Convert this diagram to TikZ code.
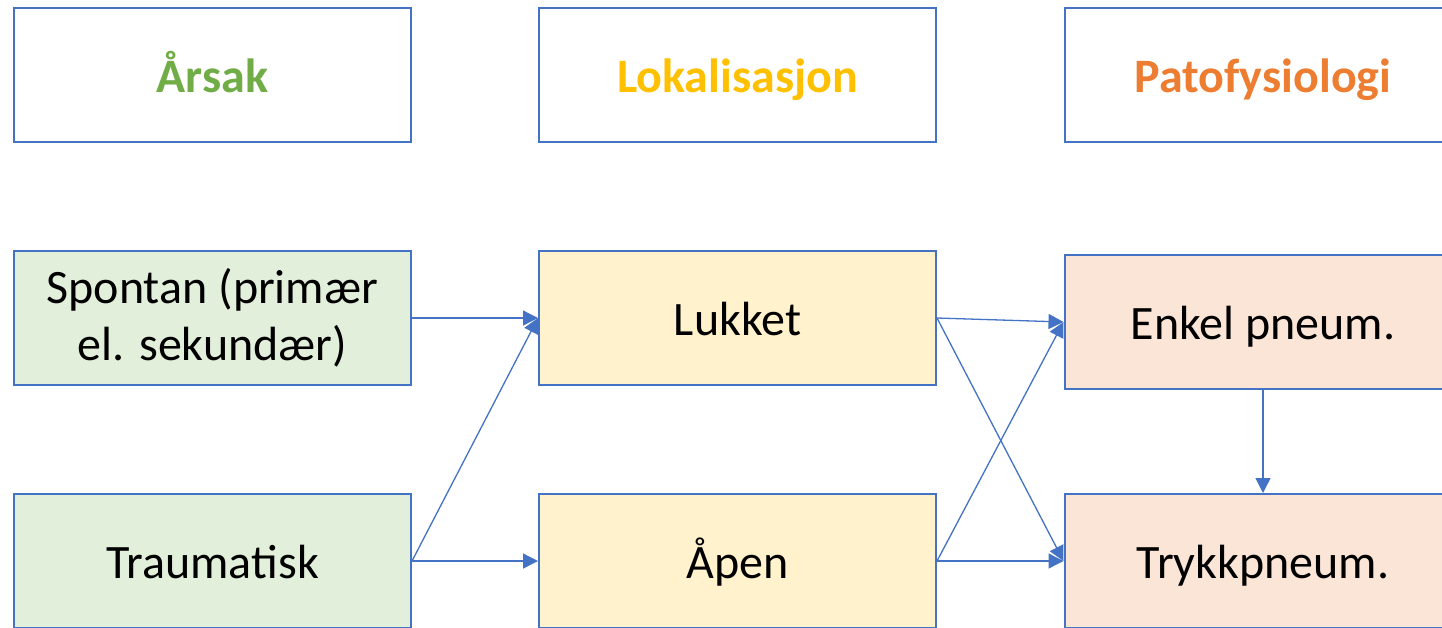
\documentclass[tikz,border=0pt]{standalone}
\usepackage{fontspec}
\setmainfont{Carlito}
\usetikzlibrary{arrows.meta}
\definecolor{bordblue}{HTML}{4472C4}
\definecolor{fgreen}{HTML}{E2EFDA}
\definecolor{fyellow}{HTML}{FFF2CC}
\definecolor{forange}{HTML}{FBE5D6}
\definecolor{tgreen}{HTML}{70AD47}
\definecolor{tgold}{HTML}{FFC000}
\definecolor{torange}{HTML}{ED7D31}
\tikzset{
  box/.style={draw=bordblue, line width=2pt, minimum width=397pt, minimum height=134pt, inner sep=0pt, align=center, font=\fontsize{48}{57}\selectfont},
  oneline/.style={text height=40pt, text depth=6pt},
  head/.style={box, oneline, fill=white, font=\fontsize{48}{57}\selectfont\bfseries},
  conn/.style={draw=bordblue, line width=1.3pt, -{Triangle[length=15pt,width=15pt]}}
}
\begin{document}
\begin{tikzpicture}[x=1pt,y=1pt]
\useasboundingbox (0,0) rectangle (1442,-627);
\clip (0,0) rectangle (1442,-627);
\fill[white] (0,0) rectangle (1442,-627);
\node[head, text=tgreen] (h1) at (212.5,-75) {Årsak};
\node[head, text=tgold] (h2) at (737.5,-75) {Lokalisasjon};
\node[head, text=torange] (h3) at (1263,-75) {Patofysiologi};
\node[box, fill=fgreen] (spon) at (212.5,-318) {Spontan (primær\\el. sekundær)};
\node[box, oneline, fill=fyellow] (luk) at (737.5,-318) {Lukket};
\node[box, oneline, fill=forange] (enk) at (1263,-322) {Enkel pneum.};
\node[box, oneline, fill=fgreen] (tra) at (212.5,-561) {Traumatisk};
\node[box, oneline, fill=fyellow] (apen) at (737.5,-561) {Åpen};
\node[box, oneline, fill=forange] (tryk) at (1263,-561) {Trykkpneum.};
\draw[conn] (spon.east) -- (luk.west);
\draw[conn] (tra.east) -- (luk.west);
\draw[conn] (tra.east) -- (apen.west);
\draw[conn] (luk.east) -- (enk.west);
\draw[conn] (luk.east) -- (tryk.west);
\draw[conn] (apen.east) -- (enk.west);
\draw[conn] (apen.east) -- (tryk.west);
\draw[conn] (enk.south) -- (tryk.north);
\end{tikzpicture}
\end{document}
